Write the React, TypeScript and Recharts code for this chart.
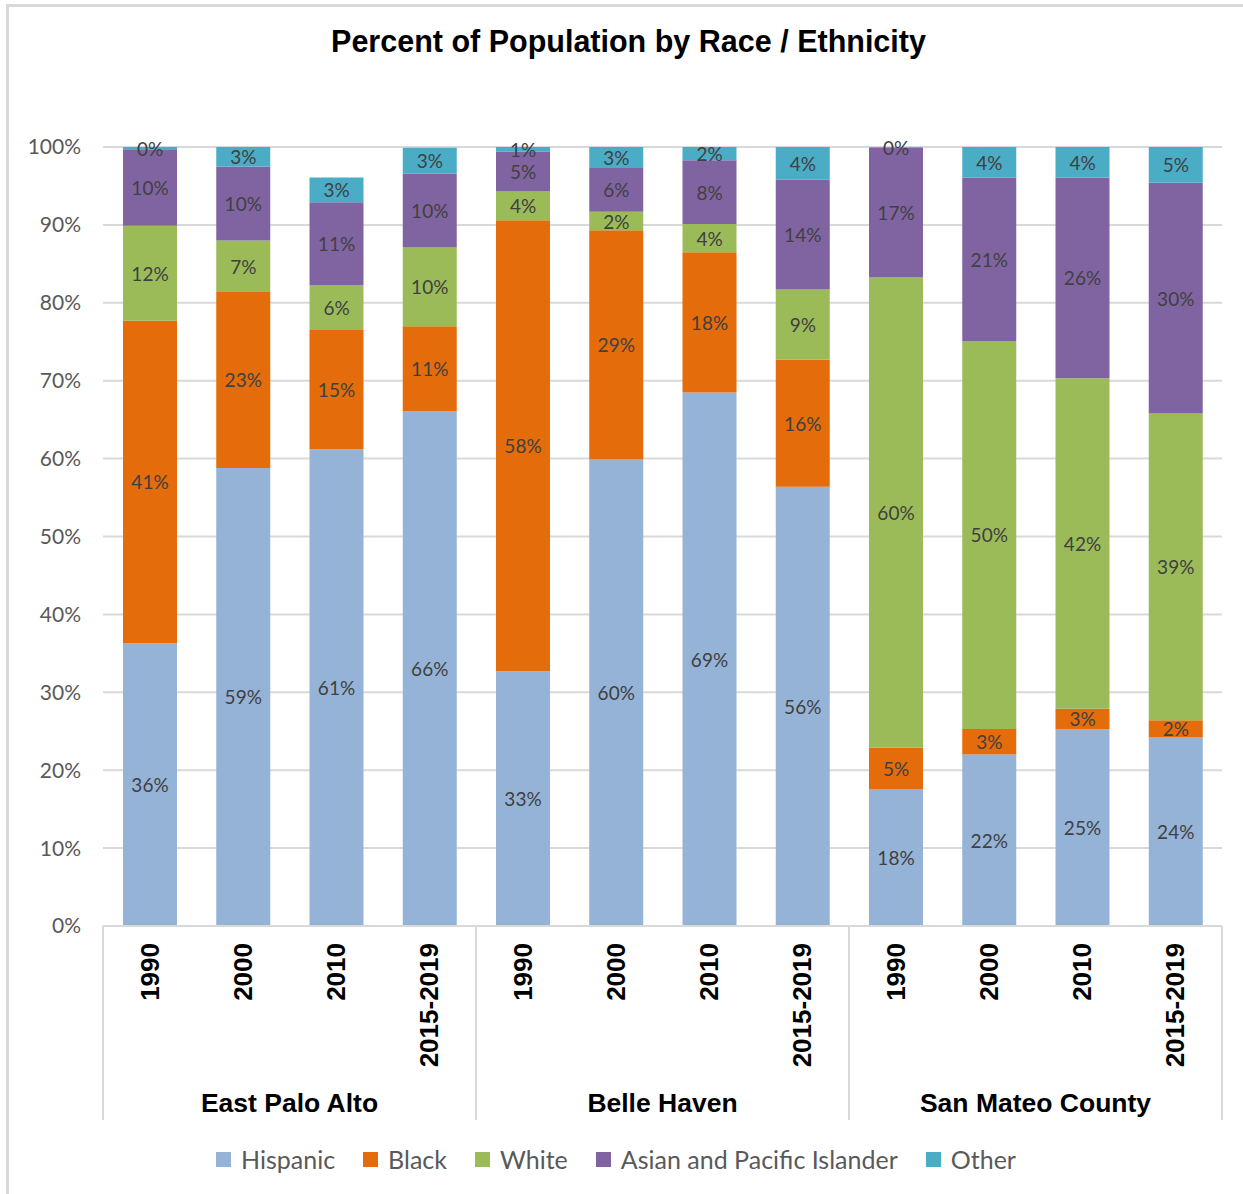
import React from 'react'
import {
  BarChart, Bar, XAxis, YAxis, CartesianGrid, LabelList,
} from 'recharts'

const places = ['East Palo Alto', 'Belle Haven', 'San Mateo County']
const years = ['1990', '2000', '2010', '2015-2019']

// percent shares, one entry per place/year in the order above
const hispanic = [36.3, 58.8, 61.2, 66.1, 32.7, 59.9, 68.5, 56.4, 17.6, 22.0, 25.3, 24.2]
const black = [41.4, 22.6, 15.3, 10.9, 57.9, 29.4, 18.0, 16.3, 5.3, 3.3, 2.6, 2.2]
const white = [12.2, 6.6, 5.8, 10.1, 3.7, 2.4, 3.6, 9.0, 60.4, 49.8, 42.4, 39.4]
const asian = [9.8, 9.5, 10.6, 9.5, 5.1, 5.6, 8.2, 14.1, 16.6, 21.0, 25.8, 29.6]
const other = [0.3, 2.5, 3.2, 3.3, 0.6, 2.7, 1.7, 4.2, 0.1, 3.9, 3.9, 4.6]

const yTicks = [0, 10, 20, 30, 40, 50, 60, 70, 80, 90, 100]

const series = [
  { key: 'hispanic', name: 'Hispanic', color: '#95B3D7' },
  { key: 'black', name: 'Black', color: '#E46C0A' },
  { key: 'white', name: 'White', color: '#9BBB59' },
  { key: 'asian', name: 'Asian and Pacific Islander', color: '#8064A2' },
  { key: 'other', name: 'Other', color: '#4BACC6' },
]

const data = places.flatMap((place, p) =>
  years.map((year, y) => {
    const i = p * years.length + y
    return {
      id: `${p}|${year}`,
      hispanic: hispanic[i],
      black: black[i],
      white: white[i],
      asian: asian[i],
      other: other[i],
    }
  }),
)

const W = 1243
const H = 1194
const PLOT_LEFT = 103
const PLOT_RIGHT = 1222
const PLOT_TOP = 147
const PLOT_BOTTOM = 926
const AXIS_H = 194
const BAND = (PLOT_RIGHT - PLOT_LEFT) / data.length

const calibriLike = 'Lato, "Open Sans", sans-serif'
const arial = '"Liberation Sans", Arial, sans-serif'
const GRID = '#D9D9D9'

// eslint-disable-next-line @typescript-eslint/no-explicit-any
const SegmentLabel = (props: any) => {
  const { x, y, width, height, value } = props
  return (
    <text
      x={x + width / 2}
      y={y + height / 2}
      textAnchor="middle"
      dominantBaseline="central"
      fill="#404040"
      fontSize={19}
      fontFamily={calibriLike}
    >
      {`${Math.round(value)}%`}
    </text>
  )
}

// year label rotated, plus group separators and place names
// eslint-disable-next-line @typescript-eslint/no-explicit-any
const CategoryTick = (props: any) => {
  const { x, y, payload } = props
  const [pStr, year] = String(payload.value).split('|')
  const p = Number(pStr)
  const pos = years.indexOf(year)
  const half = BAND / 2
  return (
    <g>
      <text
        transform={`translate(${x}, ${y + 17}) rotate(-90)`}
        textAnchor="end"
        dominantBaseline="central"
        fontSize={26}
        fontWeight={700}
        fontFamily={arial}
        fill="#000"
      >
        {year}
      </text>
      {pos === 0 && (
        <line x1={x - half} x2={x - half} y1={y} y2={y + AXIS_H} stroke={GRID} strokeWidth={2} />
      )}
      {p === places.length - 1 && pos === years.length - 1 && (
        <line x1={x + half} x2={x + half} y1={y} y2={y + AXIS_H} stroke={GRID} strokeWidth={2} />
      )}
      {pos === 1 && (
        <text
          x={x + half}
          y={y + 186}
          textAnchor="middle"
          fontSize={26.5}
          fontWeight={700}
          fontFamily={arial}
          fill="#000"
        >
          {places[p]}
        </text>
      )}
    </g>
  )
}

export default function App() {
  return (
    <div style={{ position: 'absolute', left: 0, top: 0, width: W, height: H, background: '#fff', overflow: 'hidden' }}>
      <div
        style={{
          position: 'absolute', left: 6, top: 4, width: W, height: H,
          border: `3px solid ${GRID}`, boxSizing: 'border-box',
        }}
      />
      <div
        style={{
          position: 'absolute', left: 0, top: 24, width: 1257, textAlign: 'center',
          fontFamily: arial, fontWeight: 700, fontSize: 30.5, color: '#000',
        }}
      >
        Percent of Population by Race / Ethnicity
      </div>
      <div style={{ position: 'absolute', left: 0, top: 0 }}>
        <BarChart
          width={W}
          height={H}
          data={data}
          margin={{ top: PLOT_TOP, left: 0, right: W - PLOT_RIGHT, bottom: H - PLOT_BOTTOM - AXIS_H }}
        >
          <CartesianGrid vertical={false} stroke={GRID} strokeWidth={2} />
          <YAxis
            width={PLOT_LEFT}
            domain={[0, 100]}
            ticks={yTicks}
            tickFormatter={(v: number) => `${v}%`}
            axisLine={false}
            tickLine={false}
            tickSize={0}
            tickMargin={22}
            tick={{ fill: '#595959', fontSize: 21, fontFamily: calibriLike }}
          />
          <XAxis
            dataKey="id"
            height={AXIS_H}
            interval={0}
            tickLine={false}
            tickSize={0}
            tickMargin={0}
            axisLine={{ stroke: GRID, strokeWidth: 2 }}
            tick={<CategoryTick />}
          />
          {series.map((s) => (
            <Bar key={s.key} dataKey={s.key} name={s.name} stackId="a" fill={s.color} barSize={54} isAnimationActive={false}>
              <LabelList dataKey={s.key} content={<SegmentLabel />} />
            </Bar>
          ))}
        </BarChart>
      </div>
      <div
        style={{
          position: 'absolute', left: 0, top: 1144, width: 1232,
          display: 'flex', justifyContent: 'center', gap: 28,
          fontFamily: calibriLike, fontSize: 25, color: '#595959',
        }}
      >
        {series.map((s) => (
          <div key={s.key} style={{ display: 'flex', alignItems: 'center' }}>
            <span style={{ width: 15, height: 15, background: s.color, display: 'inline-block', marginRight: 10 }} />
            <span>{s.name}</span>
          </div>
        ))}
      </div>
    </div>
  )
}
